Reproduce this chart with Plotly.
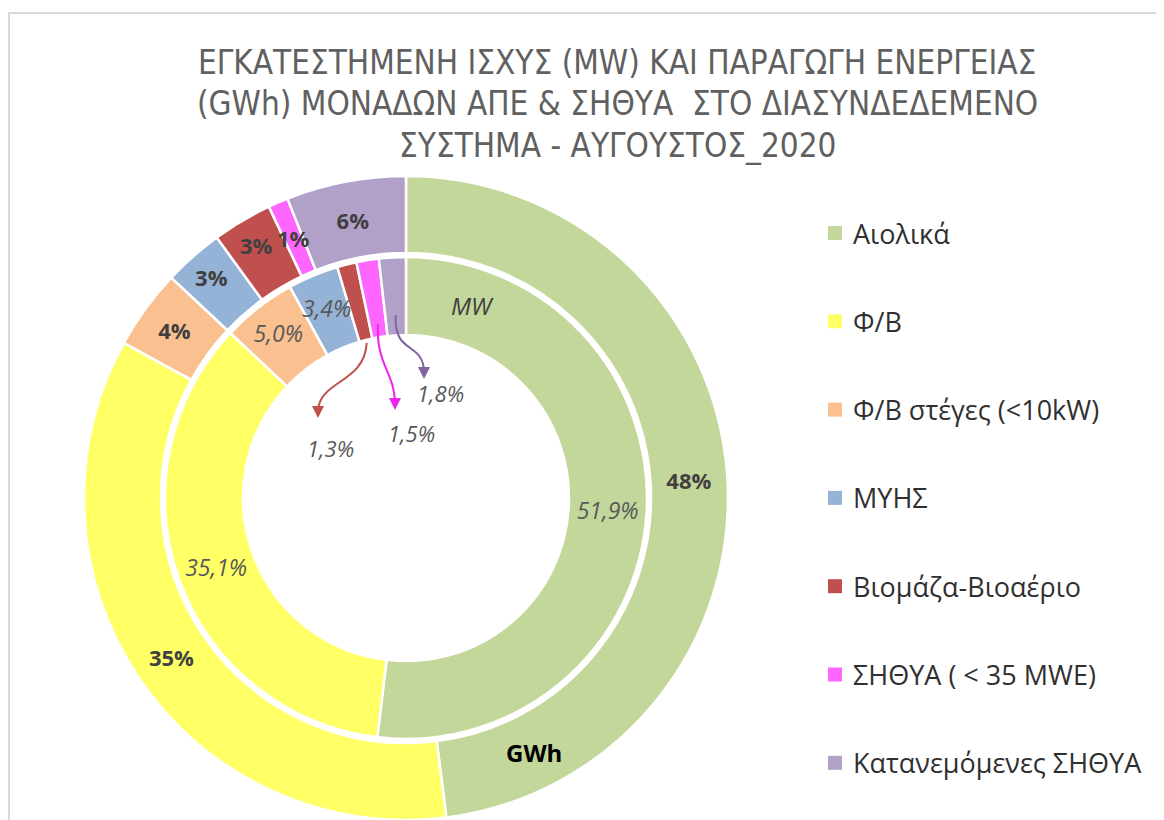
import math
import plotly.graph_objects as go

# ---------------- data ----------------
CATEGORIES = ["Αιολικά", "Φ/Β", "Φ/Β στέγες (<10kW)", "ΜΥΗΣ",
              "Βιομάζα-Βιοαέριο", "ΣΗΘΥΑ ( < 35 MWE)", "Κατανεμόμενες ΣΗΘΥΑ"]
GWH_SHARE = [48, 35, 4, 3, 3, 1, 6]            # outer ring (GWh), %
MW_SHARE = [51.9, 35.1, 5.0, 3.4, 1.3, 1.5, 1.8]  # inner ring (MW), %
COLORS = ["#C4D79B", "#FFFF66", "#FAC090", "#95B3D7",
          "#C0504D", "#FF66FF", "#B1A0C7"]
TITLE_LINES = ["ΕΓΚΑΤΕΣΤΗΜΕΝΗ ΙΣΧΥΣ (MW) ΚΑΙ ΠΑΡΑΓΩΓΗ ΕΝΕΡΓΕΙΑΣ",
               "(GWh) ΜΟΝΑΔΩΝ ΑΠΕ &amp; ΣΗΘΥΑ  ΣΤΟ ΔΙΑΣΥΝΔΕΔΕΜΕΝΟ",
               "ΣΥΣΤΗΜΑ - ΑΥΓΟΥΣΤΟΣ_2020"]
RING_NAMES = ["MW", "GWh"]

# ---------------- geometry (screen pixels) ----------------
W, H = 1164, 820
OFF = 8  # page body margin
CX, CY = 406, 498
R_OUT, R_OUT_IN = 322, 245
R_IN, R_IN_HOLE = 241, 163


def px(x):
    return (x - OFF) / W


def py(y):
    return 1 - (y - OFF) / H


def slice_point(values, i, r):
    tot = sum(values)
    frac = (sum(values[:i]) + values[i] / 2) / tot
    th = 2 * math.pi * frac
    return CX + r * math.sin(th), CY - r * math.cos(th)


def fmt(v):
    return ("%.1f" % v).replace(".", ",") + "%"


def clamp(v):
    return min(1.0, max(0.0, v))


LABEL_FONT = "Open Sans, sans-serif"
OUT_SIZE = 22
IN_SIZE = 23
OUT_FONT = dict(family=LABEL_FONT, size=OUT_SIZE, color="#404040", weight="bold")
IN_FONT = dict(family=LABEL_FONT, size=IN_SIZE, color="#595959", style="italic")

fig = go.Figure()

# outer ring (GWh)
outer_pos = ["none" if v < 2 else "inside" for v in GWH_SHARE]
fig.add_trace(go.Pie(
    labels=CATEGORIES, values=GWH_SHARE, sort=False, direction="clockwise",
    rotation=0, hole=R_OUT_IN / R_OUT,
    marker=dict(colors=COLORS, line=dict(color="white", width=2.5)),
    texttemplate="%{percent:.0%}", textposition=outer_pos,
    insidetextorientation="horizontal", insidetextfont=OUT_FONT,
    domain=dict(x=[clamp(px(CX - R_OUT)), clamp(px(CX + R_OUT))],
                y=[clamp(py(CY + R_OUT)), clamp(py(CY - R_OUT))]),
    showlegend=False, name="GWh",
))

# inner ring (MW)
inner_pos = ["none" if v < 4 else "inside" for v in MW_SHARE]
fig.add_trace(go.Pie(
    labels=CATEGORIES, values=MW_SHARE, sort=False, direction="clockwise",
    rotation=0, hole=R_IN_HOLE / R_IN,
    marker=dict(colors=COLORS, line=dict(color="white", width=2.5)),
    text=[fmt(v) for v in MW_SHARE], texttemplate="%{text}", textposition=inner_pos,
    insidetextorientation="horizontal", insidetextfont=IN_FONT,
    domain=dict(x=[px(CX - R_IN), px(CX + R_IN)], y=[py(CY + R_IN), py(CY - R_IN)]),
    showlegend=False, name="MW",
))

ann = []
shapes = []

# title
for k, line in enumerate(TITLE_LINES):
    ann.append(dict(x=px(617), y=py(62 + 41.5 * k), xref="paper", yref="paper",
                    text=line, showarrow=False, xanchor="center", yanchor="middle",
                    font=dict(family="Liberation Sans Narrow, DejaVu Sans Condensed, sans-serif",
                              size=33, color="#606060")))

# outer small label(s) that overflow the slice
for i, v in enumerate(GWH_SHARE):
    if outer_pos[i] == "none":
        x, y = slice_point(GWH_SHARE, i, (R_OUT + R_OUT_IN) / 2)
        ann.append(dict(x=px(x), y=py(y), xref="paper", yref="paper",
                        text="%d%%" % round(v), showarrow=False,
                        xanchor="center", yanchor="middle", font=OUT_FONT))

# inner label that overflows its slice (drawn on the slice, not shrunk)
for i, v in enumerate(MW_SHARE):
    if 2 <= v < 4:
        x, y = slice_point(MW_SHARE, i, (R_IN + R_IN_HOLE) / 2 + 4)
        ann.append(dict(x=px(x), y=py(y), xref="paper", yref="paper",
                        text=fmt(v), showarrow=False,
                        xanchor="center", yanchor="middle", font=IN_FONT))

# inner callouts for small slices
START_R = {4: 160, 5: 176, 6: 183}
TIPS = {4: (318, 418), 5: (395, 410), 6: (424, 379)}
LABEL_POS = {4: (330, 448), 5: (411, 433), 6: (440, 393)}
ARROW_COL = {4: "#C0504D", 5: "#EE22EE", 6: "#8064A2"}
for i in (4, 5, 6):
    sx, sy = slice_point(MW_SHARE, i, START_R[i])
    tx, ty = TIPS[i]
    ex, ey = tx, ty - 8
    c1 = (sx - 2, sy + 40)
    c2 = (ex + (sx - ex) * 0.05, ey - 30)
    path = "M %f,%f C %f,%f %f,%f %f,%f" % (px(sx), py(sy), px(c1[0]), py(c1[1]),
                                            px(c2[0]), py(c2[1]), px(ex), py(ey))
    shapes.append(dict(type="path", path=path, xref="paper", yref="paper",
                       line=dict(color=ARROW_COL[i], width=2)))
    ann.append(dict(x=px(tx), y=py(ty), xref="paper", yref="paper", text="",
                    showarrow=True, ax=0, ay=-12, arrowhead=2, arrowsize=1.2,
                    arrowwidth=2, arrowcolor=ARROW_COL[i], standoff=0))
    lx, ly = LABEL_POS[i]
    ann.append(dict(x=px(lx), y=py(ly), xref="paper", yref="paper", text=fmt(MW_SHARE[i]),
                    showarrow=False, xanchor="center", yanchor="middle",
                    font=dict(family=LABEL_FONT, size=IN_SIZE - 1, color="#595959", style="italic")))

# ring names
ann.append(dict(x=px(472), y=py(305), xref="paper", yref="paper", text="<i>%s</i>" % RING_NAMES[0],
                showarrow=False, xanchor="center", yanchor="middle",
                font=dict(family=LABEL_FONT, size=24, color="#404040")))
ann.append(dict(x=px(534), y=py(752), xref="paper", yref="paper", text="<b>%s</b>" % RING_NAMES[1],
                showarrow=False, xanchor="center", yanchor="middle",
                font=dict(family=LABEL_FONT, size=24, color="#000000")))

# legend (manual, for Excel-like spacing)
for k, (name, col) in enumerate(zip(CATEGORIES, COLORS)):
    yc = 233 + 88.3 * k
    shapes.append(dict(type="rect", xref="paper", yref="paper",
                       x0=px(828), x1=px(842), y0=py(yc + 7), y1=py(yc - 7),
                       fillcolor=col, line=dict(width=0)))
    ann.append(dict(x=px(851), y=py(yc), xref="paper", yref="paper", text=name,
                    showarrow=False, xanchor="left", yanchor="middle",
                    font=dict(family=LABEL_FONT, size=27, color="#303030")))

# chart border
shapes.append(dict(type="rect", xref="paper", yref="paper",
                   x0=px(9), x1=px(1200), y0=py(860), y1=py(13),
                   line=dict(color="#D9D9D9", width=2), fillcolor="rgba(0,0,0,0)"))

fig.update_layout(
    width=W, height=H, margin=dict(l=0, r=0, t=0, b=0),
    paper_bgcolor="white", plot_bgcolor="white",
    separators=",.", annotations=ann, shapes=shapes, showlegend=False,
)

fig.write_html("out.html")
